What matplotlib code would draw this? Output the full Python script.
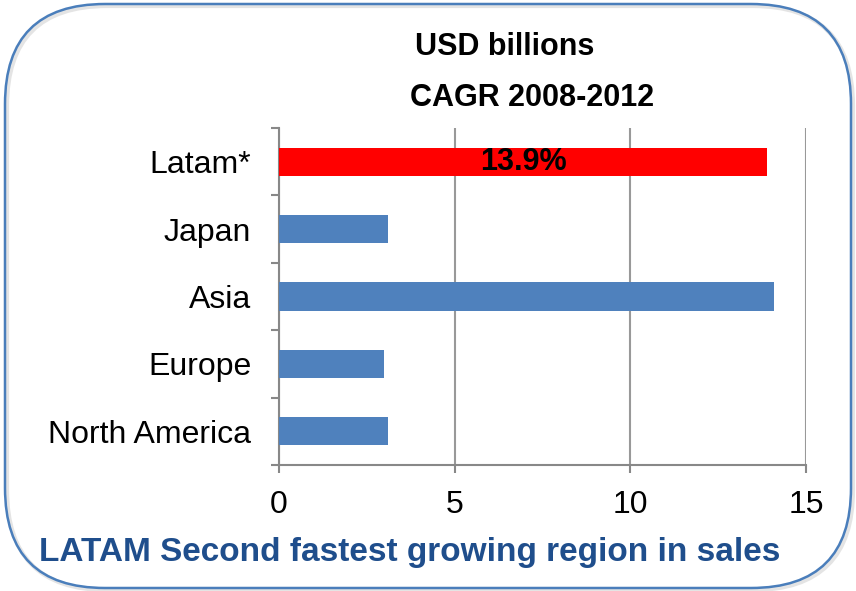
import matplotlib.pyplot as plt
from matplotlib.patches import FancyBboxPatch

regions = ["North America", "Europe", "Asia", "Japan", "Latam*"]
sales = [3.1, 3.0, 14.1, 3.1, 13.9]
bar_colors = ["#4F81BD", "#4F81BD", "#4F81BD", "#4F81BD", "#FF0000"]
cagr_label = "13.9%"
x_ticks = [0, 5, 10, 15]

plt.rcParams['font.family'] = ['Liberation Sans', 'DejaVu Sans']

fig = plt.figure(figsize=(8.56, 5.91), dpi=100)

# rounded frame around the whole slide, drawn in pixel units
bg = fig.add_axes([0, 0, 1, 1])
bg.set_xlim(0, 856)
bg.set_ylim(0, 591)
bg.axis('off')
shadow = FancyBboxPatch((7, 1), 846, 584, boxstyle="round,pad=0,rounding_size=100",
                        fc='none', ec='#e4e4e4', lw=3)
bg.add_patch(shadow)
frame = FancyBboxPatch((5, 3), 846, 584, boxstyle="round,pad=0,rounding_size=100",
                       fc='none', ec='#4A7EBB', lw=1.8)
bg.add_patch(frame)

ax = fig.add_axes([279 / 856, 1 - 465 / 591, 527 / 856, 337 / 591])
ypos = list(range(len(regions)))
bars = ax.barh(ypos, sales, height=0.42, color=bar_colors, zorder=3)

ax.set_xlim(0, 15)
ax.set_ylim(-0.5, len(regions) - 0.5)
ax.set_xticks(x_ticks)
ax.set_xticklabels([str(t) for t in x_ticks], fontsize=23)
ax.set_yticks(ypos)
ax.set_yticklabels(regions, fontsize=23)
ax.set_yticks([i - 0.5 for i in range(len(regions) + 1)], minor=True)
ax.tick_params(axis='y', which='major', length=0, pad=20)
ax.tick_params(axis='y', which='minor', length=6, width=1.5, color='#888888')
ax.tick_params(axis='x', length=6, width=1.5, color='#888888', pad=12)

ax.grid(axis='x', color='#999999', lw=1.5, zorder=0)
for side in ['top', 'right']:
    ax.spines[side].set_visible(False)
for side in ['left', 'bottom']:
    ax.spines[side].set_color('#888888')
    ax.spines[side].set_linewidth(1.5)

# CAGR label on the Latam bar
latam = bars[-1]
ax.text(latam.get_width() / 2, latam.get_y() + latam.get_height() / 2, cagr_label,
        ha='center', va='center', fontsize=22, fontweight='bold', color='black', zorder=4)

fig.text(505 / 856, 1 - 47 / 591, "USD billions", ha='center', va='center',
         fontsize=22, fontweight='bold')
fig.text(532 / 856, 1 - 98 / 591, "CAGR 2008-2012", ha='center', va='center',
         fontsize=22, fontweight='bold')
fig.text(410 / 856, 1 - 553 / 591, "LATAM Second fastest growing region in sales",
         ha='center', va='center', fontsize=24, fontweight='bold', color='#1F4E8C')

fig.savefig('out.png', dpi=100)
